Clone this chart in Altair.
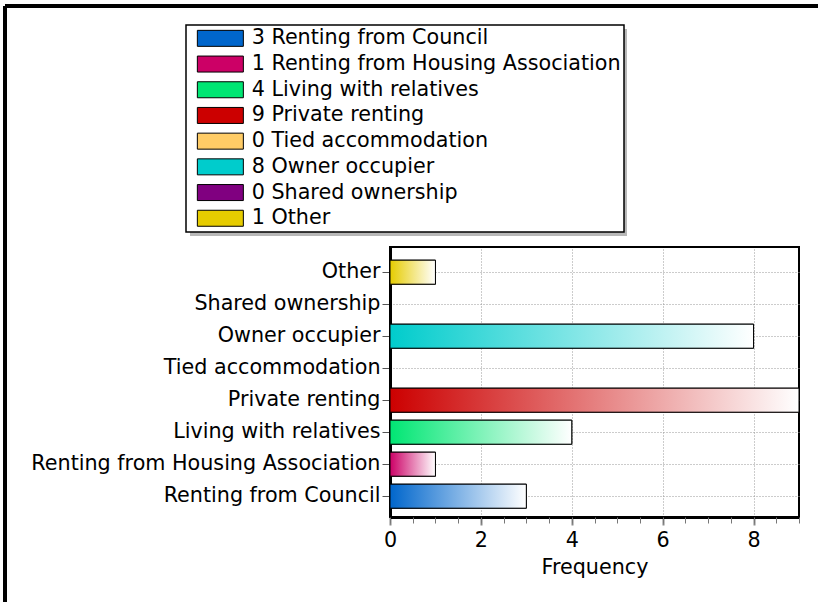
import altair as alt
import pandas as pd

categories = ["Renting from Council", "Renting from Housing Association", "Living with relatives",
              "Private renting", "Tied accommodation", "Owner occupier", "Shared ownership", "Other"]
counts = [3, 1, 4, 9, 0, 8, 0, 1]
colors = ["#0066CC", "#CC0066", "#00E673", "#CC0000", "#FFCC66", "#00CCCC", "#800080", "#E6CC00"]
x_ticks = [0, 2, 4, 6, 8]
x_minor = [i * 0.5 for i in range(19)]

labels = [f"{n} {c}" for n, c in zip(counts, categories)]
df = pd.DataFrame({"category": categories, "count": counts, "label": labels})

FONT = "DejaVu Sans"
FS = 20.7
y_sort = list(reversed(categories))

y_enc = alt.Y("category:N", sort=y_sort, title=None,
              scale=alt.Scale(paddingInner=0.25, paddingOuter=0.34375, align=0.6),
              axis=alt.Axis(labelFontSize=FS, labelColor="black", labelFont=FONT, labelLimit=500,
                            tickSize=8, tickColor="#555", labelPadding=2,
                            domainColor="black", domainWidth=3,
                            grid=True, gridColor="#999", gridDash=[1, 2]))

x_scale = alt.Scale(domain=[0, 9], nice=False)
x_main = alt.X("count:Q", scale=x_scale, title="Frequency",
               axis=alt.Axis(values=x_ticks, labelFontSize=FS, labelColor="black", labelFont=FONT,
                             labelFlush=False,
                             titleFontSize=FS, titleFontWeight="normal", titleFont=FONT, titleColor="black",
                             titlePadding=8, tickSize=8, tickColor="#888", tickWidth=2, labelPadding=5,
                             domainColor="black", domainWidth=3,
                             grid=True, gridColor="#999", gridDash=[1, 2]))

base = alt.Chart(df).mark_bar(stroke="black", strokeWidth=1).encode(
    x=x_main,
    y=y_enc,
    color=alt.Color("label:N", scale=alt.Scale(domain=labels, range=colors),
                    legend=alt.Legend(
                        title=None, orient="none", legendX=-204, legendY=-222,
                        fillColor="white", strokeColor="black",
                        padding=3, labelFontSize=FS, labelFont=FONT, labelColor="black",
                        labelLimit=600,
                        symbolType="M-1,-1H4.75V1H-1Z", symbolSize=256,
                        symbolStrokeColor="black", symbolStrokeWidth=1, symbolOpacity=1,
                        symbolOffset=6, labelOffset=36, rowPadding=3.7)),
)

layers = [base]
for cat, col in zip(categories, colors):
    grad = alt.LinearGradient(gradient="linear",
                              stops=[alt.GradientStop(offset=0, color=col),
                                     alt.GradientStop(offset=1, color="white")],
                              x1=0, x2=1, y1=0, y2=0)
    layers.append(
        alt.Chart(df).transform_filter(alt.datum.category == cat)
        .mark_bar(fill=grad, stroke="black", strokeWidth=1)
        .encode(x=alt.X("count:Q", scale=x_scale), y=alt.Y("category:N", sort=y_sort))
    )

# decorations: outer frame lines and legend shadow
shadow = alt.Chart(df).mark_rect(color="#b8b8b8").encode(
    x=alt.value(-200), x2=alt.value(237), y=alt.value(-218), y2=alt.value(-11))
frame_top = alt.Chart(df).mark_rule(color="black", strokeWidth=3).encode(
    x=alt.value(-385), x2=alt.value(430), y=alt.value(-241))
frame_left = alt.Chart(df).mark_rule(color="black", strokeWidth=3).encode(
    x=alt.value(-385), y=alt.value(-241), y2=alt.value(360))

main = alt.layer(shadow, frame_top, frame_left, *layers)

minor = alt.Chart(df).mark_bar(opacity=0).encode(
    x=alt.X("count:Q", scale=x_scale, title=None,
            axis=alt.Axis(orient="bottom", values=x_minor, labels=False, domain=False,
                          grid=False, tickSize=6, tickColor="#777", tickWidth=1, title=None)),
    y=alt.Y("category:N", sort=y_sort),
)

chart = alt.layer(main, minor).resolve_axis(x="independent").properties(
    width=409, height=270,
    autosize=alt.AutoSizeParams(type="none"),
    padding={"left": 390, "top": 247, "right": 19, "bottom": 85},
    background="white",
).configure(font=FONT).configure_view(stroke="black", strokeWidth=2).configure_legend(strokeWidth=1.5)

chart.save("out.html", embed_options={"renderer": "svg", "actions": False})
